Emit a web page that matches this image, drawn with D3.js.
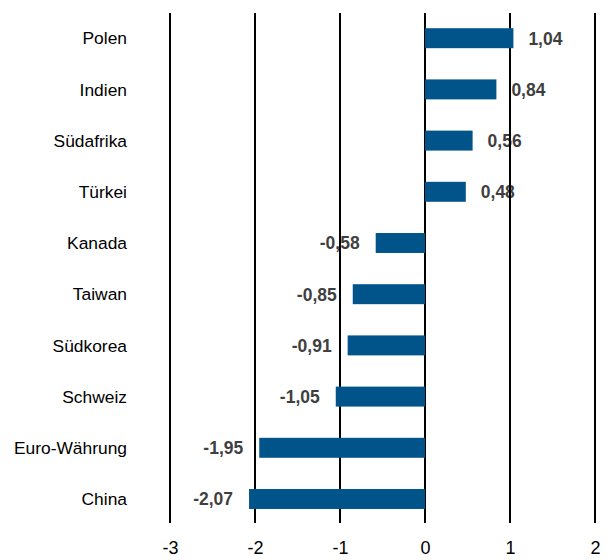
<!DOCTYPE html>
<html>
<head>
<meta charset="utf-8">
<script src="https://cdn.jsdelivr.net/npm/d3@7"></script>
<style>
  html, body { margin: 0; padding: 0; background: #fff; }
  svg { display: block; }
</style>
</head>
<body>
<svg id="chart" width="614" height="560"></svg>
<script>
// Currency / country categories, top to bottom
const categories = ["Polen", "Indien", "Südafrika", "Türkei", "Kanada", "Taiwan", "Südkorea", "Schweiz", "Euro-Währung", "China"];
// Values per category
const values = [1.04, 0.84, 0.56, 0.48, -0.58, -0.85, -0.91, -1.05, -1.95, -2.07];
// Axis ticks
const ticks = [-3, -2, -1, 0, 1, 2];

const svg = d3.select("#chart");
const font = "'Liberation Sans', Arial, sans-serif";
const barColor = "#00548a";
const labelColor = "#3f3f3f";

const x = d3.scaleLinear().domain([-3, 2]).range([170, 595]);
const y = d3.scaleBand().domain(categories).range([12.6, 524.6]).paddingInner(0.61).paddingOuter(0.305);

// German decimal comma, plain hyphen as minus sign
const fmt = v => d3.format(".2f")(v).replace("\u2212", "-").replace(".", ",");

// Value labels (drawn beneath the grid lines)
svg.append("g").selectAll("text")
  .data(values)
  .join("text")
  .attr("x", d => d >= 0 ? x(d) + 15 : x(d) - 16)
  .attr("y", (d, i) => y(categories[i]) + y.bandwidth() / 2)
  .attr("dy", "0.36em")
  .attr("text-anchor", d => d >= 0 ? "start" : "end")
  .attr("font-family", font)
  .attr("font-weight", "bold")
  .attr("font-size", 17.5)
  .attr("fill", labelColor)
  .text(d => fmt(d));

// Vertical grid lines
svg.append("g").selectAll("line")
  .data(ticks)
  .join("line")
  .attr("x1", d => x(d)).attr("x2", d => x(d))
  .attr("y1", 13).attr("y2", 523)
  .attr("stroke", "#000")
  .attr("stroke-width", 2);

// Bars
svg.append("g").selectAll("rect")
  .data(values)
  .join("rect")
  .attr("x", d => x(Math.min(0, d)))
  .attr("width", d => Math.abs(x(d) - x(0)))
  .attr("y", (d, i) => y(categories[i]))
  .attr("height", y.bandwidth())
  .attr("fill", barColor);

// Category labels
svg.append("g").selectAll("text")
  .data(categories)
  .join("text")
  .attr("x", 127)
  .attr("y", d => y(d) + y.bandwidth() / 2)
  .attr("dy", "0.36em")
  .attr("text-anchor", "end")
  .attr("font-family", font)
  .attr("font-size", 17.4)
  .attr("fill", "#000")
  .text(d => d);

// Tick labels along the bottom
const axis = d3.axisBottom(x).tickValues(ticks).tickSize(0).tickPadding(0);
const gAxis = svg.append("g").attr("transform", "translate(0,541)").call(axis);
gAxis.select(".domain").remove();
gAxis.selectAll("text")
  .attr("font-family", font)
  .attr("font-size", 18)
  .attr("fill", "#000")
  .attr("dy", "0.71em")
  .text(d => (d < 0 ? "-" : "") + Math.abs(d));
</script>
</body>
</html>
